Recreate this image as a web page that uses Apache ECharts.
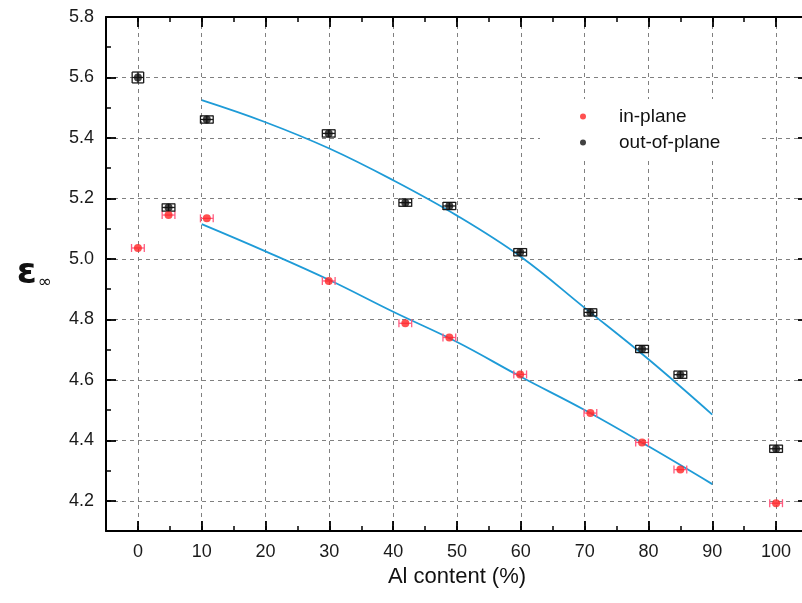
<!DOCTYPE html>
<html>
<head>
<meta charset="utf-8">
<script src="https://cdn.jsdelivr.net/npm/echarts@6/dist/echarts.min.js"></script>
<style>
  html, body { margin: 0; padding: 0; background: #ffffff; }
  #chart { width: 802px; height: 603px; }
</style>
</head>
<body>
<div id="chart"></div>
<script>
// Al content of each sample (%)
const alContent = [0, 4.8, 10.8, 29.9, 41.9, 48.8, 59.9, 70.9, 79.0, 85.0, 100];
// High-frequency dielectric constant, in-plane component
const inPlane = [5.036, 5.145, 5.134, 4.927, 4.787, 4.740, 4.618, 4.490, 4.393, 4.303, 4.192];
// High-frequency dielectric constant, out-of-plane component
const outOfPlane = [5.600, 5.170, 5.461, 5.415, 5.186, 5.175, 5.022, 4.823, 4.702, 4.617, 4.372];
// Uncertainties
const xErrIn = [1, 1, 1, 1, 1, 1, 1, 1, 1, 1, 1];
const yErrIn = [0, 0, 0, 0, 0, 0, 0, 0, 0, 0, 0];
const xErrOut = [0.9, 1, 1, 1, 1, 1, 1, 1, 1, 1, 1];
const yErrOut = [0.018, 0.012, 0.012, 0.012, 0.012, 0.012, 0.012, 0.012, 0.012, 0.012, 0.012];

// Fitted curves over the 10-90 % range
const fitX = [10, 20, 30, 40, 50, 60, 70, 80, 90];
const fitOut = [5.525, 5.452, 5.365, 5.260, 5.143, 5.007, 4.838, 4.668, 4.485];
const fitIn = [5.115, 5.025, 4.930, 4.825, 4.725, 4.610, 4.500, 4.380, 4.255];

// Axis ticks
const xMajor = [0, 10, 20, 30, 40, 50, 60, 70, 80, 90, 100];
const yMajor = [4.2, 4.4, 4.6, 4.8, 5.0, 5.2, 5.4, 5.6, 5.8];

const FONT = 'Liberation Sans, Arial, sans-serif';
const RED = '#ff2424';
const RED_ERR = '#ff5c80';
const BLACK = '#111111';
const FIT = '#1e9bd7';

const zip = (xs, ys) => xs.map((x, i) => [x, ys[i]]);
const zipErr = (xs, ys, ex, ey) => xs.map((x, i) => [x, ys[i], ex[i], ey[i]]);

function errorBars(color) {
  return function (params, api) {
    const x = api.value(0), y = api.value(1), ex = api.value(2), ey = api.value(3);
    const l = api.coord([x - ex, y]);
    const r = api.coord([x + ex, y]);
    const style = { stroke: color, lineWidth: 1.3, fill: null };
    const children = [];
    const line = (x1, y1, x2, y2) => children.push({
      type: 'line', shape: { x1, y1, x2, y2 }, style
    });
    let capV = 4;
    let tY = l[1], bY = l[1];
    if (ey > 0) {
      tY = api.coord([x, y + ey])[1];
      bY = api.coord([x, y - ey])[1];
      capV = Math.max(4, (bY - tY) / 2);
    }
    // horizontal bar with end caps
    line(l[0], l[1], r[0], r[1]);
    line(l[0], l[1] - capV, l[0], l[1] + capV);
    line(r[0], r[1] - capV, r[0], r[1] + capV);
    if (ey > 0) {
      const cx = api.coord([x, y])[0];
      line(cx, tY, cx, bY);
      line(l[0], tY, r[0], tY);
      line(l[0], bY, r[0], bY);
    }
    return { type: 'group', children };
  };
}

const axisLabelStyle = { color: '#1a1a1a', fontFamily: FONT, fontSize: 18 };
const noOnZero = { show: false, onZero: false };

const chart = echarts.init(document.getElementById('chart'), null, { renderer: 'canvas' });

chart.setOption({
  backgroundColor: '#ffffff',
  animation: false,
  grid: { left: 106, width: 702, top: 17, height: 514, containLabel: false, outerBoundsMode: 'none' },
  legend: {
    orient: 'vertical',
    left: 540,
    top: 99,
    padding: [8, 38, 8, 40],
    itemGap: 7,
    itemWidth: 6,
    itemHeight: 6,
    backgroundColor: '#ffffff',
    data: [
      { name: 'in-plane', icon: 'circle' },
      { name: 'out-of-plane', icon: 'circle' }
    ],
    textStyle: { fontFamily: FONT, fontSize: 19, color: '#111', padding: [0, 0, 0, 28] }
  },
  xAxis: [
    {
      // bottom axis: line, minor ticks, labels, grid
      type: 'value', position: 'bottom', min: -5, max: 105, interval: 5,
      name: 'Al content (%)', nameLocation: 'middle', nameGap: 23,
      nameTextStyle: { fontFamily: FONT, fontSize: 22, color: '#111' },
      axisLine: { show: true, onZero: false, lineStyle: { color: '#000', width: 2 } },
      axisTick: { show: true, inside: true, length: 5, lineStyle: { color: '#000', width: 1.5 } },
      axisLabel: {
        ...axisLabelStyle, margin: 12,
        formatter: v => (Math.round(v) % 10 === 0 && v >= 0 && v <= 100) ? String(Math.round(v)) : ''
      },
      splitLine: { show: true, lineStyle: { color: ['rgba(0,0,0,0)', '#808080'], type: [4, 4], width: 1 } }
    },
    {
      // bottom axis: major ticks
      type: 'value', position: 'bottom', min: -5, max: 105,
      axisLine: noOnZero,
      axisTick: { show: true, inside: true, length: 10, customValues: xMajor, lineStyle: { color: '#000', width: 1.8 } },
      axisLabel: { show: false },
      splitLine: { show: false }
    },
    {
      // top frame: minor ticks
      type: 'value', position: 'top', min: -5, max: 105, interval: 5,
      axisLine: { show: true, onZero: false, lineStyle: { color: '#000', width: 2 } },
      axisTick: { show: true, inside: true, length: 5, lineStyle: { color: '#000', width: 1.5 } },
      axisLabel: { show: false },
      splitLine: { show: false }
    },
    {
      // top frame: major ticks
      type: 'value', position: 'top', min: -5, max: 105,
      axisLine: noOnZero,
      axisTick: { show: true, inside: true, length: 10, customValues: xMajor, lineStyle: { color: '#000', width: 1.8 } },
      axisLabel: { show: false },
      splitLine: { show: false }
    }
  ],
  yAxis: [
    {
      type: 'value', position: 'left', min: 4.1, max: 5.8, interval: 0.1,
      name: '{e|ε}{s|∞}', nameLocation: 'middle', nameGap: 54, nameRotate: 0,
      nameTextStyle: {
        rich: {
          e: { fontFamily: 'DejaVu Sans', fontSize: 36, fontWeight: 'bold', color: '#111' },
          s: { fontFamily: 'DejaVu Sans', fontSize: 17, color: '#111', padding: [18, 0, 0, 1] }
        }
      },
      axisLine: { show: true, onZero: false, lineStyle: { color: '#000', width: 2 } },
      axisTick: { show: true, inside: true, length: 5, lineStyle: { color: '#000', width: 1.5 } },
      axisLabel: {
        ...axisLabelStyle, margin: 12,
        formatter: v => (Math.round(v * 10) % 2 === 0) ? (Math.round(v * 10) / 10).toFixed(1) : ''
      },
      splitLine: { show: true, lineStyle: { color: ['rgba(0,0,0,0)', '#808080'], type: [4, 4], width: 1 } }
    },
    {
      type: 'value', position: 'left', min: 4.1, max: 5.8,
      axisLine: noOnZero,
      axisTick: { show: true, inside: true, length: 10, customValues: yMajor, lineStyle: { color: '#000', width: 1.8 } },
      axisLabel: { show: false },
      splitLine: { show: false }
    },
    {
      type: 'value', position: 'right', min: 4.1, max: 5.8, interval: 0.1,
      axisLine: { show: true, onZero: false, lineStyle: { color: '#000', width: 2 } },
      axisTick: { show: true, inside: true, length: 5, lineStyle: { color: '#000', width: 1.5 } },
      axisLabel: { show: false },
      splitLine: { show: false }
    },
    {
      type: 'value', position: 'right', min: 4.1, max: 5.8,
      axisLine: noOnZero,
      axisTick: { show: true, inside: true, length: 10, customValues: yMajor, lineStyle: { color: '#000', width: 1.8 } },
      axisLabel: { show: false },
      splitLine: { show: false }
    }
  ],
  series: [
    {
      name: 'fit out-of-plane', type: 'line', xAxisIndex: 0, yAxisIndex: 0,
      data: zip(fitX, fitOut), smooth: 0.4, showSymbol: false, symbol: 'none',
      lineStyle: { color: FIT, width: 1.8 }, z: 1, silent: true
    },
    {
      name: 'fit in-plane', type: 'line', xAxisIndex: 0, yAxisIndex: 0,
      data: zip(fitX, fitIn), smooth: 0.4, showSymbol: false, symbol: 'none',
      lineStyle: { color: FIT, width: 1.8 }, z: 1, silent: true
    },
    {
      name: 'in-plane error', type: 'custom', xAxisIndex: 0, yAxisIndex: 0,
      renderItem: errorBars(RED_ERR), data: zipErr(alContent, inPlane, xErrIn, yErrIn), z: 2, silent: true
    },
    {
      name: 'out-of-plane error', type: 'custom', xAxisIndex: 0, yAxisIndex: 0,
      renderItem: errorBars('#1a1a1a'), data: zipErr(alContent, outOfPlane, xErrOut, yErrOut), z: 2, silent: true
    },
    {
      name: 'in-plane', type: 'scatter', xAxisIndex: 0, yAxisIndex: 0,
      data: zip(alContent, inPlane), symbol: 'circle', symbolSize: 8,
      itemStyle: { color: RED }, z: 3
    },
    {
      name: 'out-of-plane', type: 'scatter', xAxisIndex: 0, yAxisIndex: 0,
      data: zip(alContent, outOfPlane), symbol: 'circle', symbolSize: 8,
      itemStyle: { color: BLACK }, z: 3
    }
  ]
});
</script>
</body>
</html>
